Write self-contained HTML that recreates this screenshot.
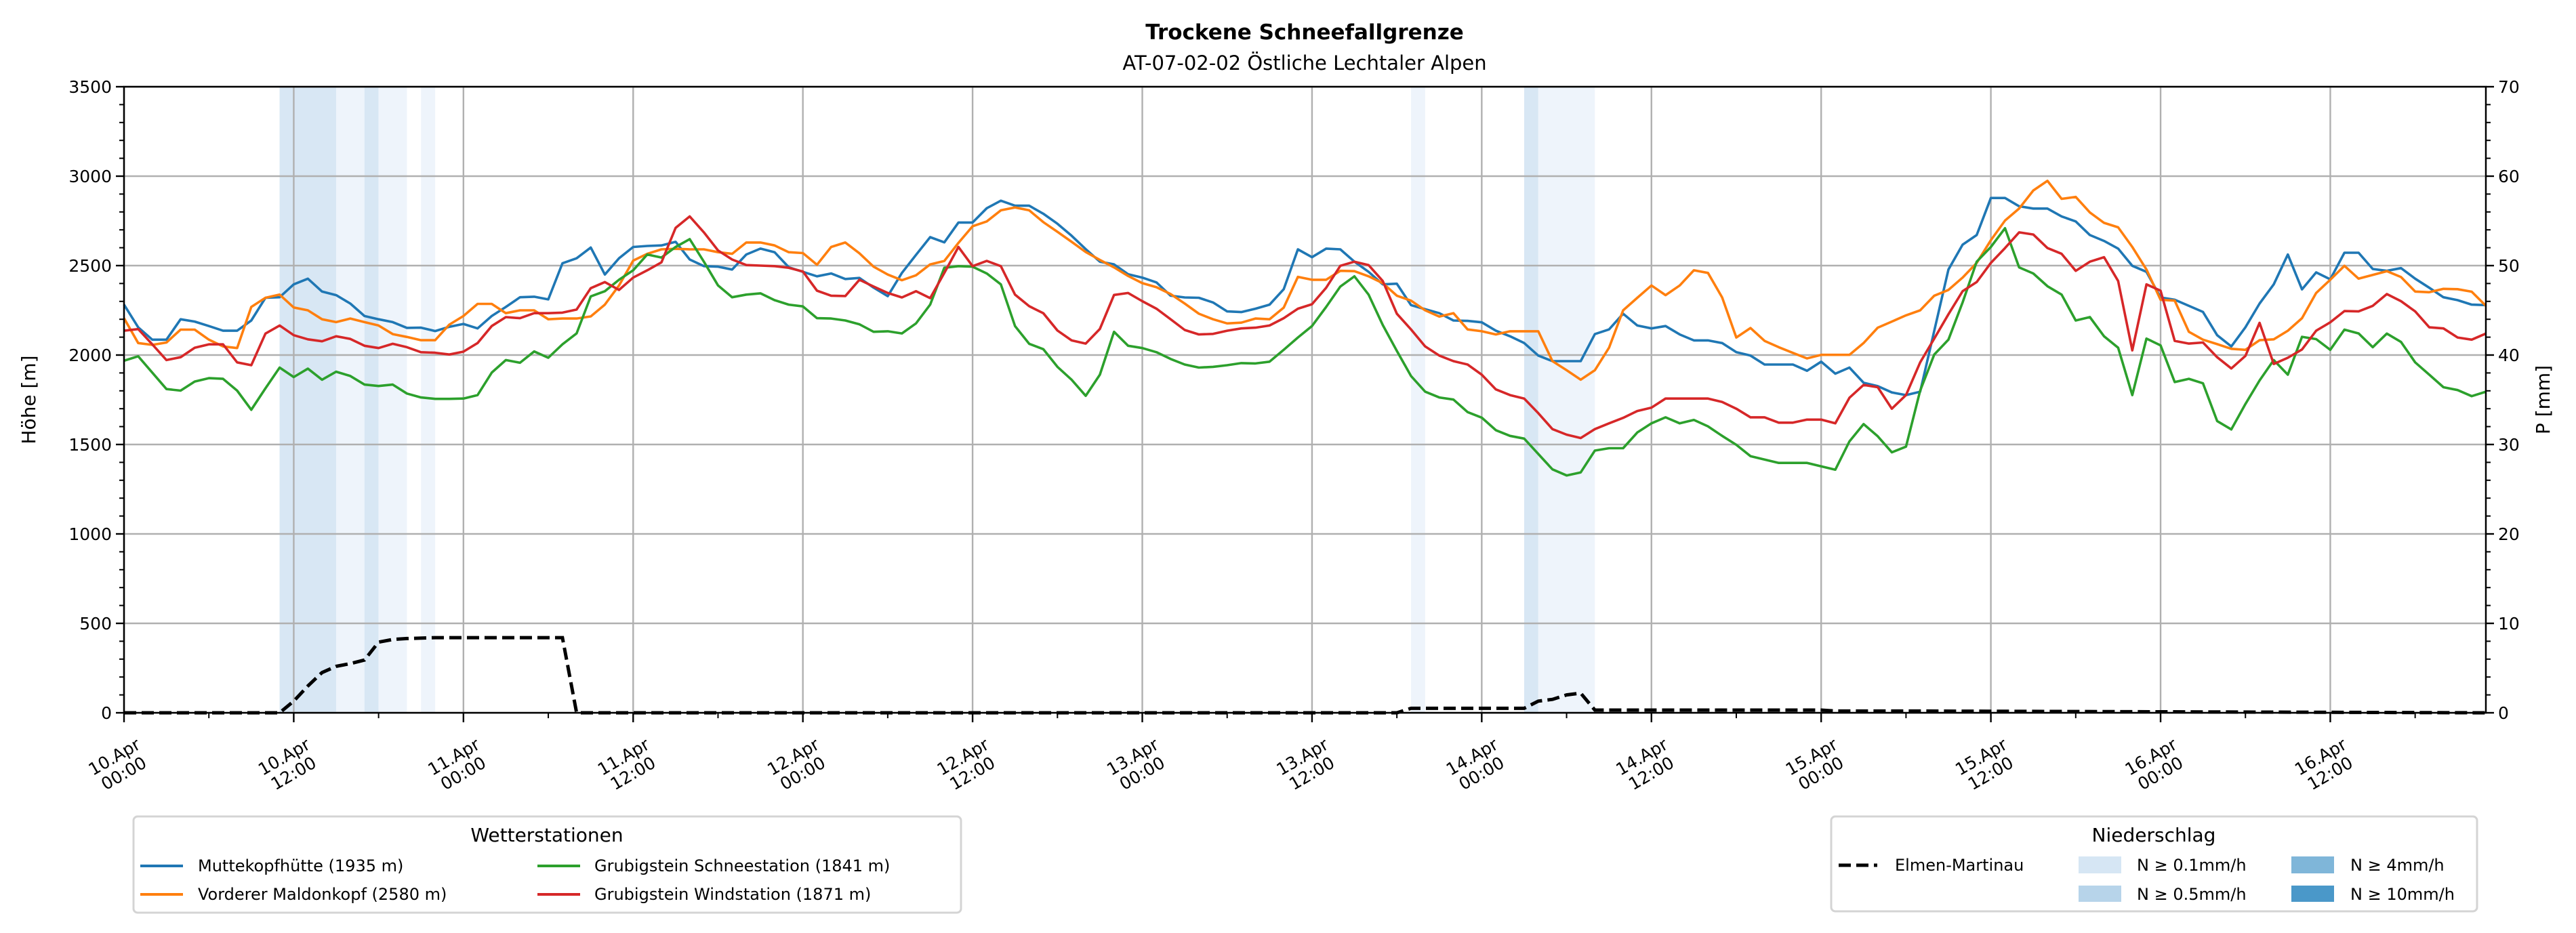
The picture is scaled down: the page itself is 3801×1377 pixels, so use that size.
<!DOCTYPE html>
<html><head><meta charset="utf-8">
<style>
html,body{margin:0;padding:0;background:#fff;}
svg{display:block;font-family:"DejaVu Sans","Liberation Sans",sans-serif;}
</style></head>
<body>
<svg id="chart" xmlns="http://www.w3.org/2000/svg" width="3801" height="1377" viewBox="0 0 3801 1377">
<rect x="0" y="0" width="3801" height="1377" fill="#fff"/>
<text x="1925" y="58" text-anchor="middle" font-size="31" font-weight="bold">Trockene Schneefallgrenze</text>
<text x="1925" y="103" text-anchor="middle" font-size="29">AT-07-02-02 Östliche Lechtaler Alpen</text>
<g id="bands"></g>
<g id="grid"></g>
<g id="series"></g>
<g id="axes"></g>
<text transform="translate(52,590) rotate(-90)" text-anchor="middle" font-size="28">Höhe [m]</text>
<text transform="translate(3762,590) rotate(-90)" text-anchor="middle" font-size="28">P [mm]</text>

<g>
<rect x="197" y="1205" width="1221" height="142" rx="6" fill="#fff" stroke="#d4d4d4" stroke-width="3"/>
<text x="807" y="1242" text-anchor="middle" font-size="28">Wetterstationen</text>
<g><line x1="207" y1="1278" x2="270" y2="1278" stroke="#1f77b4" stroke-width="4"/><text x="292" y="1286" font-size="24">Muttekopfhütte (1935 m)</text></g>
<g><line x1="207" y1="1320" x2="270" y2="1320" stroke="#ff7f0e" stroke-width="4"/><text x="292" y="1328" font-size="24">Vorderer Maldonkopf (2580 m)</text></g>
<g><line x1="793" y1="1278" x2="856" y2="1278" stroke="#2ca02c" stroke-width="4"/><text x="877" y="1286" font-size="24">Grubigstein Schneestation (1841 m)</text></g>
<g><line x1="793" y1="1320" x2="856" y2="1320" stroke="#d62728" stroke-width="4"/><text x="877" y="1328" font-size="24">Grubigstein Windstation (1871 m)</text></g>
</g>

<g>
<rect x="2702" y="1205" width="953" height="140" rx="6" fill="#fff" stroke="#d4d4d4" stroke-width="3"/>
<text x="3178" y="1242" text-anchor="middle" font-size="28">Niederschlag</text>
<g><line x1="2713" y1="1277" x2="2770" y2="1277" stroke="#000" stroke-width="5" stroke-dasharray="18,8"/><text x="2796" y="1285" font-size="24">Elmen-Martinau</text></g>
<g><rect x="3067" y="1264" width="63" height="25" fill="#d6e6f4"/><text x="3153" y="1285" font-size="24">N ≥ 0.1mm/h</text></g>
<g><rect x="3067" y="1307" width="63" height="24" fill="#b7d4ea"/><text x="3153" y="1328" font-size="24">N ≥ 0.5mm/h</text></g>
<g><rect x="3381" y="1264" width="63" height="25" fill="#7fb6d9"/><text x="3468" y="1285" font-size="24">N ≥ 4mm/h</text></g>
<g><rect x="3381" y="1307" width="63" height="24" fill="#4a98c9"/><text x="3468" y="1328" font-size="24">N ≥ 10mm/h</text></g>
</g>
</svg>
<script>
const muttekopf = [2282,2155,2086,2086,2200,2187,2162,2136,2136,2193,2320,2323,2395,2427,2355,2335,2288,2218,2200,2184,2152,2153,2134,2158,2174,2149,2218,2269,2323,2326,2311,2513,2541,2601,2450,2541,2604,2610,2613,2633,2534,2497,2494,
2478,2562,2595,2575,2491,2465,2440,2456,2425,2431,2377,2329,2459,2560,2659,2630,2741,2741,2821,2863,2835,2835,2790,2734,2667,2592,2522,2507,2452,2433,2406,2332,2322,2320,2294,2244,2240,2259,2282,2368,2591,2547,
2595,2591,2522,2465,2395,2399,2279,2256,2234,2193,2191,2183,2136,2105,2067,1997,1966,1966,1966,2117,2143,2231,2165,2149,2162,2115,2082,2082,2067,2016,1997,1947,1947,1947,1912,1963,1896,1930,1845,1826,1791,1776,
1795,2136,2478,2617,2671,2878,2878,2832,2819,2819,2775,2747,2671,2638,2595,2499,2465,2322,2309,2275,2241,2111,2048,2155,2288,2395,2562,2367,2462,2423,2572,2572,2481,2471,2486,2427,2376,2323,2307,2282,2279];
const maldonkopf = [2206,2067,2057,2070,2142,2142,2086,2048,2039,2269,2320,2338,2266,2250,2200,2184,2204,2184,2165,2117,2101,2083,2083,2170,2218,2286,2286,2234,2250,2250,2200,2204,2204,2216,2282,2389,2528,2566,2591,2594,2591,2591,2575,
2566,2629,2629,2613,2575,2570,2505,2604,2629,2569,2494,2450,2418,2446,2507,2526,2627,2720,2747,2809,2825,2809,2743,2689,2633,2576,2532,2490,2442,2402,2379,2341,2288,2231,2200,2177,2181,2204,2200,2265,2437,2421,
2421,2471,2469,2440,2402,2332,2304,2250,2215,2234,2143,2133,2115,2133,2133,2133,1966,1915,1862,1915,2041,2250,2320,2389,2335,2389,2474,2459,2322,2098,2151,2079,2044,2012,1981,2001,2001,2001,2067,2153,2187,2222,
2250,2332,2364,2433,2515,2642,2752,2819,2920,2974,2873,2884,2797,2739,2714,2604,2478,2309,2304,2130,2086,2061,2035,2029,2083,2088,2136,2206,2347,2421,2499,2427,2448,2469,2436,2355,2351,2370,2368,2354,2275];
const schneestation = [1968,1993,1902,1810,1801,1852,1871,1867,1801,1694,1814,1930,1877,1924,1862,1907,1883,1835,1827,1835,1785,1763,1755,1755,1757,1776,1902,1972,1957,2020,1985,2060,2121,2328,2357,2421,2474,2562,2545,2604,2648,2522,2389,
2323,2338,2345,2307,2282,2272,2206,2204,2193,2172,2130,2133,2121,2177,2282,2488,2497,2494,2456,2395,2162,2063,2033,1934,1862,1772,1890,2130,2052,2039,2016,1978,1947,1930,1934,1943,1955,1953,1963,2029,2098,2162,
2269,2383,2440,2338,2168,2023,1883,1795,1763,1751,1681,1650,1580,1548,1533,1447,1361,1327,1344,1466,1479,1479,1567,1618,1652,1618,1637,1601,1548,1498,1435,1416,1397,1397,1397,1378,1359,1517,1614,1546,1456,1488,
1801,2003,2086,2294,2522,2604,2709,2490,2456,2385,2338,2193,2212,2105,2041,1776,2092,2054,1849,1867,1842,1631,1584,1726,1858,1972,1890,2102,2089,2029,2142,2121,2044,2120,2073,1959,1890,1820,1804,1770,1795];
const windstation = [2136,2145,2060,1972,1988,2041,2060,2060,1959,1943,2120,2165,2111,2088,2077,2105,2090,2052,2039,2063,2044,2016,2013,2003,2019,2067,2162,2212,2206,2234,2234,2237,2254,2374,2408,2364,2433,2474,2518,2711,2775,2686,2585,
2534,2503,2500,2497,2488,2467,2360,2332,2330,2421,2383,2347,2322,2357,2318,2459,2604,2497,2526,2497,2338,2273,2234,2137,2082,2064,2146,2336,2347,2301,2259,2200,2140,2115,2118,2136,2149,2153,2165,2206,2259,2284,
2376,2499,2522,2503,2414,2231,2143,2048,1997,1966,1947,1890,1808,1776,1757,1675,1586,1555,1536,1586,1618,1649,1687,1706,1757,1757,1757,1757,1738,1700,1652,1652,1622,1622,1639,1639,1618,1761,1833,1820,1700,1776,
1959,2092,2228,2357,2408,2515,2598,2686,2674,2598,2566,2471,2522,2547,2414,2026,2395,2360,2079,2064,2070,1988,1925,1995,2180,1950,1985,2031,2136,2183,2246,2244,2275,2341,2301,2244,2155,2149,2098,2086,2120];
// Elmen-Martinau precipitation sum [mm], sparse (hour, value)
const precipHours = [0,11,12,13,14,15,16,17,18,19,20,22,31,32,90,91,99,100,101,102,103,104,120,121,127,167];
const precipValues = [0,0,1.3,3.0,4.5,5.2,5.5,5.9,7.9,8.2,8.3,8.4,8.4,0,0,0.5,0.5,1.3,1.5,2.0,2.2,0.3,0.3,0.2,0.2,0];
// precipitation bands
const bandStart = [11,15,17,18,21,91,99,100];
const bandEnd   = [15,17,18,20,22,92,100,104];
const bandLevel = [1,0,1,0,0,0,1,0];
const xTickHours = [0,12,24,36,48,60,72,84,96,108,120,132,144,156];
const xTickLine1 = ["10.Apr","10.Apr","11.Apr","11.Apr","12.Apr","12.Apr","13.Apr","13.Apr","14.Apr","14.Apr","15.Apr","15.Apr","16.Apr","16.Apr"];
const xTickLine2 = ["00:00","12:00","00:00","12:00","00:00","12:00","00:00","12:00","00:00","12:00","00:00","12:00","00:00","12:00"];
const yTicks = [0,500,1000,1500,2000,2500,3000,3500];
const y2Ticks = [0,10,20,30,40,50,60,70];

const NS="http://www.w3.org/2000/svg";
const L=183,R=3668,T=128,B=1052, HMAX=167;
const xs=h=>L+h*(R-L)/HMAX;
const ys=m=>B-m*(B-T)/3500;
const yp=mm=>B-mm*(B-T)/70;
function mk(tag,attrs,parent){const e=document.createElementNS(NS,tag);for(const k in attrs)e.setAttribute(k,attrs[k]);parent.appendChild(e);return e;}
const gB=document.getElementById('bands'),gG=document.getElementById('grid'),gS=document.getElementById('series'),gA=document.getElementById('axes');
const bandColors=['#eef4fb','#d8e7f4'];
bandStart.forEach((s,i)=>{
  const r=mk('rect',{x:xs(s),y:T,width:xs(bandEnd[i])-xs(s),height:B-T,fill:bandColors[bandLevel[i]]},gB);
  
  
});
xTickHours.forEach(h=>{const l=mk('line',{x1:xs(h),x2:xs(h),y1:T,y2:B,stroke:'#b0b0b0','stroke-width':2.4},gG);
  
  });
yTicks.forEach(v=>{const l=mk('line',{x1:L,x2:R,y1:ys(v),y2:ys(v),stroke:'#b0b0b0','stroke-width':2.4},gG);
  
  });
const seriesDefs=[[muttekopf,'#1f77b4','series-muttekopf'],[maldonkopf,'#ff7f0e','series-maldonkopf'],[schneestation,'#2ca02c','series-schneestation'],[windstation,'#d62728','series-windstation']];
seriesDefs.forEach(([d,c,n])=>{
  const pts=d.map((v,i)=>xs(i).toFixed(1)+','+ys(v).toFixed(1)).join(' ');
  const p=mk('polyline',{points:pts,fill:'none',stroke:c,'stroke-width':3.6,'stroke-linejoin':'round'},gS);
  
  
});
const pp=mk('polyline',{points:precipHours.map((h,i)=>xs(h).toFixed(1)+','+yp(precipValues[i]).toFixed(1)).join(' '),fill:'none',stroke:'#000','stroke-width':5,'stroke-dasharray':'18,8'},gS);


// axes frame
const fr=mk('rect',{x:L,y:T,width:R-L,height:B-T,fill:'none',stroke:'#000','stroke-width':2.5},gA);


yTicks.forEach(v=>{
  mk('line',{x1:L-12,x2:L,y1:ys(v),y2:ys(v),stroke:'#000','stroke-width':2.4},gA);
  const t=mk('text',{x:L-18,y:ys(v)+9,'text-anchor':'end','font-size':25},gA);t.textContent=v;
  
  
});
for(let v=0;v<=3500;v+=100){if(v%500)mk('line',{x1:L-7,x2:L,y1:ys(v),y2:ys(v),stroke:'#000','stroke-width':2},gA);}
y2Ticks.forEach(v=>{
  mk('line',{x1:R,x2:R+12,y1:yp(v),y2:yp(v),stroke:'#000','stroke-width':2.4},gA);
  const t=mk('text',{x:R+18,y:yp(v)+9,'text-anchor':'start','font-size':25},gA);t.textContent=v;
  
  
});
for(let v=0;v<=70;v+=2){if(v%10)mk('line',{x1:R,x2:R+7,y1:yp(v),y2:yp(v),stroke:'#000','stroke-width':2},gA);}
xTickHours.forEach((h,i)=>{
  mk('line',{x1:xs(h),x2:xs(h),y1:B,y2:B+14,stroke:'#000','stroke-width':2.4},gA);
  mk('line',{x1:xs(h+6),x2:xs(h+6),y1:B,y2:B+8,stroke:'#000','stroke-width':2},gA);
  const g=mk('g',{transform:`translate(${xs(h)-8},${1128}) rotate(-30)`},gA);
  
  
  const t1=mk('text',{x:0,y:-4,'text-anchor':'middle','font-size':25},g);t1.textContent=xTickLine1[i];
  const t2=mk('text',{x:0,y:24,'text-anchor':'middle','font-size':25},g);t2.textContent=xTickLine2[i];
});
</script>
</body></html>
